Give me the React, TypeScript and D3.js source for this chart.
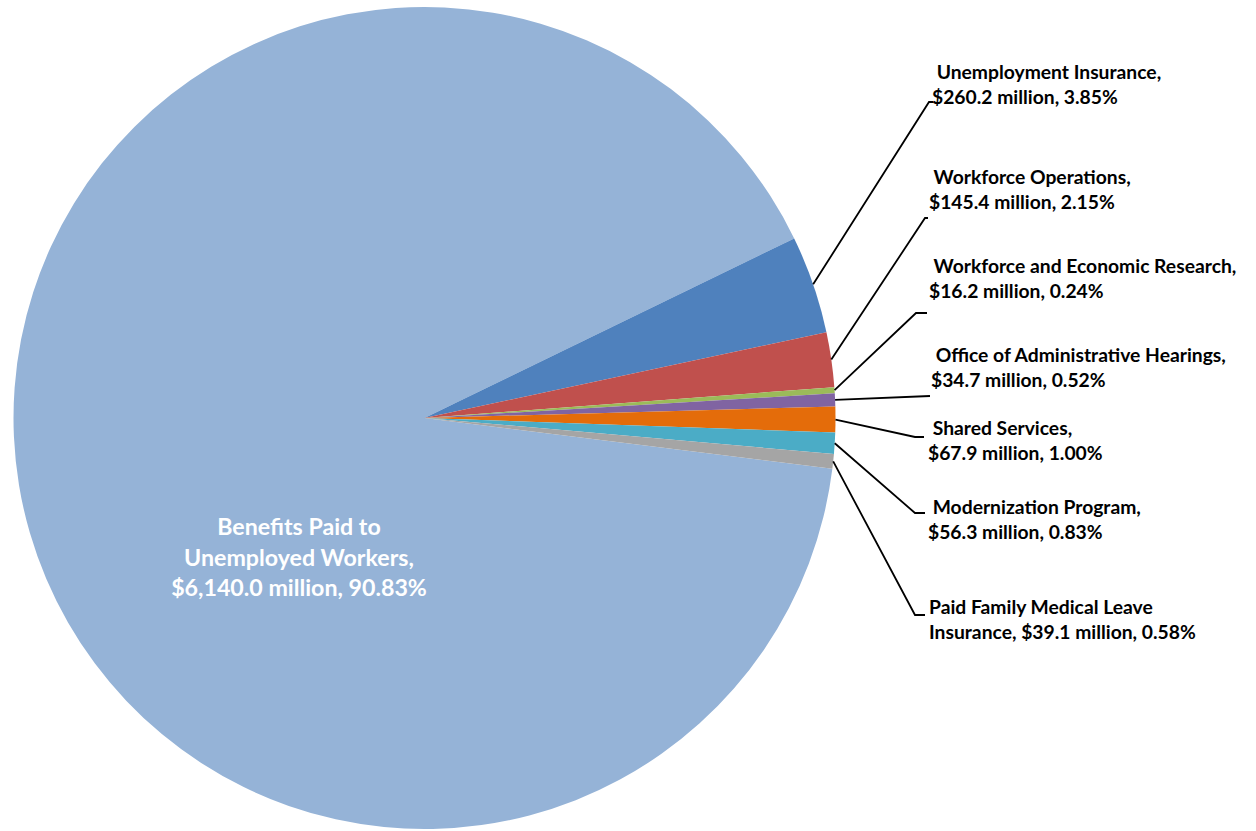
import React from "react";
import * as d3 from "d3";

const categories = [
  "Benefits Paid to Unemployed Workers",
  "Unemployment Insurance",
  "Workforce Operations",
  "Workforce and Economic Research",
  "Office of Administrative Hearings",
  "Shared Services",
  "Modernization Program",
  "Paid Family Medical Leave Insurance",
];
const valuesMillions = [6140.0, 260.2, 145.4, 16.2, 34.7, 67.9, 56.3, 39.1];
const percentLabels = ["90.83%", "3.85%", "2.15%", "0.24%", "0.52%", "1.00%", "0.83%", "0.58%"];
const labelLines = [
  ["Benefits Paid to", "Unemployed Workers,", "$6,140.0 million, 90.83%"],
  [" Unemployment Insurance,", "$260.2 million, 3.85%"],
  [" Workforce Operations,", "$145.4 million, 2.15%"],
  [" Workforce and Economic Research,", "$16.2 million, 0.24%"],
  [" Office of Administrative Hearings,", "$34.7 million, 0.52%"],
  [" Shared Services,", "$67.9 million, 1.00%"],
  [" Modernization Program,", "$56.3 million, 0.83%"],
  ["Paid Family Medical Leave", "Insurance, $39.1 million, 0.58%"],
];

const colors = ["#95B3D7", "#4F81BD", "#C0504D", "#9BBB59", "#8064A2", "#E46C0A", "#4BACC6", "#A5A5A5"];

// label layout: elbow point, end point, text x, first baseline
const labelLayout = [
  null,
  { elbow: [929, 102], end: [933, 102], x: 932, y: 79 },
  { elbow: [925, 218], end: [928, 218], x: 929, y: 184 },
  { elbow: [916, 313], end: [927, 313], x: 929, y: 273 },
  { elbow: [930, 396], end: [930, 396], x: 931, y: 362 },
  { elbow: [915, 437], end: [924, 437], x: 928, y: 435 },
  { elbow: [915, 513], end: [925, 513], x: 928, y: 514 },
  { elbow: [915, 615], end: [925, 615], x: 929, y: 614 },
];

const W = 1256;
const H = 831;
const cx = 424.5;
const cy = 418;
const R = 411;
const startDeg = 97.1;

export default function App() {
  const pie = d3
    .pie<number>()
    .sort(null)
    .value((d) => d)
    .startAngle((startDeg * Math.PI) / 180)
    .endAngle((startDeg * Math.PI) / 180 + 2 * Math.PI);
  const arcs = pie(valuesMillions);
  const arc = d3.arc<d3.PieArcDatum<number>>().innerRadius(0).outerRadius(R);
  const font = "Lato, 'Open Sans', sans-serif";

  return (
    <svg
      width={W}
      height={H}
      style={{ position: "absolute", left: 0, top: 0, background: "#fff" }}
      fontFamily={font}
    >
      <g transform={`translate(${cx},${cy})`}>
        {arcs.map((a, i) => (
          <path key={categories[i]} d={arc(a) || ""} fill={colors[i]} />
        ))}
      </g>
      {arcs.map((a, i) => {
        const lay = labelLayout[i];
        if (!lay) return null;
        const mid = (a.startAngle + a.endAngle) / 2;
        const sx = cx + R * Math.sin(mid);
        const sy = cy - R * Math.cos(mid);
        return (
          <g key={"l" + i}>
            <polyline
              points={`${sx},${sy} ${lay.elbow[0]},${lay.elbow[1]} ${lay.end[0]},${lay.end[1]}`}
              fill="none"
              stroke="#000"
              strokeWidth={1.8}
            />
            <text
              x={lay.x}
              y={lay.y}
              fontSize={19.3}
              fontWeight={700}
              fill="#000"
              style={{ whiteSpace: "pre" }}
            >
              {labelLines[i].map((ln, j) => (
                <tspan key={j} x={lay.x} y={lay.y + j * 24.5}>
                  {ln}
                </tspan>
              ))}
            </text>
          </g>
        );
      })}
      <text x={299} y={535} fontSize={23.2} fontWeight={700} fill="#fff" textAnchor="middle">
        {labelLines[0].map((ln, j) => (
          <tspan key={j} x={299} y={535 + j * 30.5}>
            {ln}
          </tspan>
        ))}
      </text>
    </svg>
  );
}
